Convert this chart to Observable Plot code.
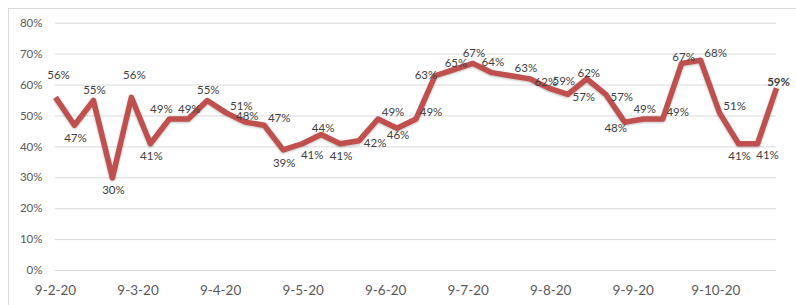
<!DOCTYPE html>
<html>
<head>
<meta charset="utf-8">
<script src="https://cdn.jsdelivr.net/npm/d3@7"></script>
<script src="https://cdn.jsdelivr.net/npm/@observablehq/plot@0.6"></script>
<style>
  body { margin: 0; background: #fff; }
  #wrap { position: relative; width: 796px; height: 305px; overflow: hidden; background: #fff; }
  #frame { position: absolute; left: 8px; top: 8px; width: 900px; height: 400px; border: 1px solid #d9d9d9; box-sizing: border-box; }
  #chart { position: absolute; left: 0; top: 0; }
</style>
</head>
<body>
<div id="wrap"><div id="frame"></div><div id="chart"></div></div>
<script>
// ---- data ----
const values = [56,47,55,30,56,41,49,49,55,51,48,47,39,41,44,41,42,49,46,49,63,65,67,64,63,62,59,57,62,57,48,49,49,67,68,51,41,41,59];
const dayLabels = ["9-2-20","9-3-20","9-4-20","9-5-20","9-6-20","9-7-20","9-8-20","9-9-20","9-10-20"];
const pointsPerDay = 4.35;
const yTicks = [0,10,20,30,40,50,60,70,80];
// label placement codes (like Excel's data-label position)
const labelPlacement = ["T","b","t","b","T","b","tl","t","t","tr","tn","tr","b","br","tn","b","r","tr","bn","tr","l","tn","t","t","tr","r","tr","r","tn","r","bl","t","tr","tn","tr","tr","b","br","tn"];
const boldLabels = [38];

// ---- layout helpers ----
const nudge = {
  t: [1,-10], T: [3,-22], tn: [2,-6], b: [1,13], bn: [1,7], br: [10,12],
  tr: [15,-7], r: [16,3], l: [-9,0], tl: [-8,-10], bl: [-9,6]
};
const rows = values.map((v, i) => ({i, v, p: labelPlacement[i], bold: boldLabels.includes(i)}));
const dayTicks = dayLabels.map((_, k) => k * pointsPerDay);

const textMarks = Object.keys(nudge).flatMap(code => [false, true].map(bold => {
  const sub = rows.filter(d => d.p === code && d.bold === bold);
  if (!sub.length) return null;
  return Plot.text(sub, {
    x: "i", y: "v", text: d => d.v + "%",
    dx: nudge[code][0], dy: nudge[code][1],
    fill: "#404040", fontSize: 11.5, fontWeight: bold ? "bold" : "normal"
  });
})).filter(Boolean);

const chart = Plot.plot({
  width: 796,
  height: 305,
  marginLeft: 55,
  marginRight: 20,
  marginTop: 22.7,
  marginBottom: 35,
  style: { fontFamily: "Lato, 'Open Sans', sans-serif", fontSize: "11px", background: "transparent" },
  x: { domain: [0, values.length - 1] },
  y: { domain: [0, 80] },
  marks: [
    Plot.ruleY(yTicks, { stroke: "#d9d9d9", strokeWidth: 1 }),
    Plot.axisY({ ticks: yTicks, tickFormat: d => d + "%", tickSize: 0, tickPadding: 13, fontSize: 11.5, fill: "#595959", label: null }),
    Plot.axisX({ ticks: dayTicks, tickFormat: d => dayLabels[Math.round(d / pointsPerDay)], tickSize: 0, tickPadding: 15, fontSize: 13.5, fill: "#595959", label: null }),
    Plot.line(rows, { x: "i", y: "v", stroke: "#C0504D", strokeWidth: 5.5, strokeLinejoin: "round", strokeLinecap: "butt" }),
    ...textMarks
  ]
});
document.getElementById("chart").appendChild(chart);
d3.select(chart).selectAll("[aria-label=line] path")
  .style("filter", "drop-shadow(0px 1.5px 1px rgba(0,0,0,0.25))");
</script>
</body>
</html>
